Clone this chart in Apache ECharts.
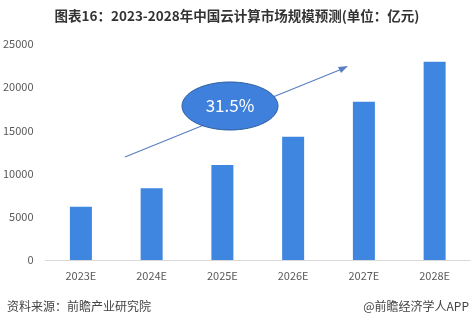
<!DOCTYPE html>
<html>
<head>
<meta charset="utf-8">
<style>html,body{margin:0;padding:0;background:#fff;}#c{width:474px;height:323px;}</style>
<script src="https://cdn.jsdelivr.net/npm/echarts@6/dist/echarts.min.js"></script>
</head>
<body>
<div id="c"></div>
<script>
var categories = ['2023E','2024E','2025E','2026E','2027E','2028E'];
var values = [6170, 8300, 11000, 14270, 18320, 22950];
var yTicks = [0, 5000, 10000, 15000, 20000, 25000];
var growthLabel = '31.5%';
var titleText = '图表16：2023-2028年中国云计算市场规模预测(单位：亿元)';
var sourceText = '资料来源：前瞻产业研究院';
var brandText = '@前瞻经济学人APP';

var chart = echarts.init(document.getElementById('c'), null, {renderer:'canvas'});
var font = '"Microsoft YaHei","Noto Sans CJK SC","Noto Sans",sans-serif';
chart.setOption({
  animation: false,
  textStyle: {fontFamily: font},
  title: {
    text: titleText, left: 'center', top: 4,
    textStyle: {fontSize: 13.5, fontWeight: 'bold', color: '#333', fontFamily: font}
  },
  grid: {left: 45, right: 4, top: 44, bottom: 63},
  xAxis: {
    type: 'category', data: categories,
    axisLine: {lineStyle: {color: '#d9d9d9'}},
    axisTick: {show: false},
    axisLabel: {color: '#595959', fontSize: 11, margin: 10}
  },
  yAxis: {
    type: 'value', min: yTicks[0], max: yTicks[yTicks.length-1], interval: yTicks[1]-yTicks[0],
    splitLine: {show: false},
    axisLine: {show: false}, axisTick: {show: false},
    axisLabel: {color: '#595959', fontSize: 11, margin: 12, formatter: function(v){return String(v);}}
  },
  series: [{
    type: 'bar', data: values, barWidth: 22,
    itemStyle: {color: '#3f86e0'}
  }],
  graphic: [
    {type: 'line', z: 10, shape: {x1: 125, y1: 157, x2: 342, y2: 69},
     style: {stroke: '#5a7fc2', lineWidth: 1.2}},
    {type: 'polygon', z: 10, shape: {points: [[348, 66], [338, 67], [341, 73]]},
     style: {fill: '#5a7fc2'}},
    {type: 'ellipse', z: 20, shape: {cx: 230, cy: 106, rx: 48, ry: 24},
     style: {fill: '#3e80dc', stroke: '#2f5f9e', lineWidth: 1}},
    {type: 'text', z: 21, x: 230, y: 106,
     style: {text: growthLabel, textAlign: 'center', textVerticalAlign: 'middle',
       fill: '#fff', fontSize: 17, fontFamily: font}},
    {type: 'text', left: 7, top: 300,
     style: {text: sourceText, fill: '#444', fontSize: 12, fontFamily: font}},
    {type: 'text', right: 5, top: 300,
     style: {text: brandText, fill: '#444', fontSize: 12, fontFamily: font}}
  ]
});
</script>
</body>
</html>
